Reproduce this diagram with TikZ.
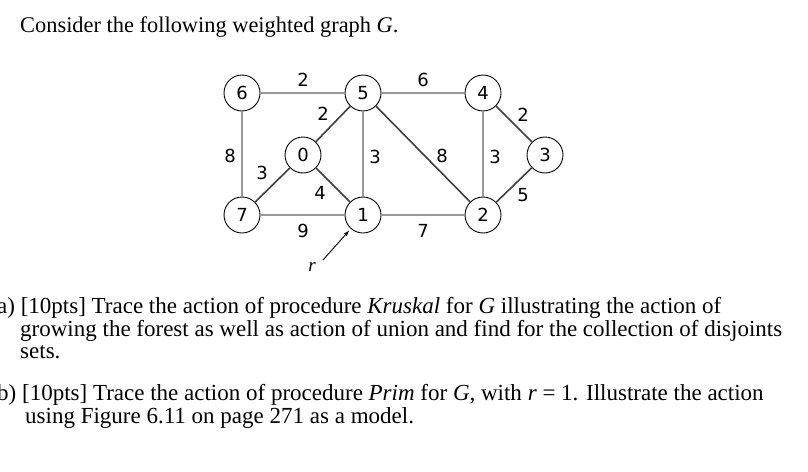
\documentclass[tikz,border=0pt]{standalone}
\usepackage{fontspec}
\setmainfont{Liberation Serif}
\newfontfamily\digitfont{DejaVu Sans}
\usetikzlibrary{arrows.meta}
\tikzset{
    vertex/.style={circle, draw=black, line width=0.9pt, fill=white,
        minimum size=36pt, inner sep=0pt, font=\digitfont\fontsize{18}{18}\selectfont},
    wedge/.style={draw=gray!80, line width=2pt},
    dedge/.style={draw=black!75, line width=1.6pt},
    weight/.style={font=\digitfont\fontsize{18}{18}\selectfont, inner sep=0pt},
    line/.style={anchor=base west, inner sep=0pt}
}
\begin{document}
\begin{tikzpicture}[x=1pt, y=-1pt]
    \useasboundingbox[fill=white] (0,0) rectangle (808,471);

    % question text
    \node[line, font=\fontsize{22.4}{26}\selectfont] (title) at (20,32)
        {Consider the following weighted graph \textit{G}.};

    % vertices
    \node[vertex] (n6) at (242,93) {6};
    \node[vertex] (n5) at (363,93) {5};
    \node[vertex] (n4) at (483,93) {4};
    \node[vertex] (n0) at (303,155) {0};
    \node[vertex] (n3) at (545,155) {3};
    \node[vertex] (n7) at (242,215) {7};
    \node[vertex] (n1) at (363,215) {1};
    \node[vertex] (n2) at (483,215) {2};

    % edges
    \draw[wedge] (n6) -- (n5);
    \draw[wedge] (n5) -- (n4);
    \draw[wedge] (n6) -- (n7);
    \draw[wedge] (n7) -- (n1);
    \draw[wedge] (n1) -- (n2);
    \draw[wedge] (n5) -- (n1);
    \draw[wedge] (n4) -- (n2);
    \draw[dedge] (n5) -- (n0);
    \draw[dedge] (n0) -- (n7);
    \draw[dedge] (n0) -- (n1);
    \draw[dedge] (n5) -- (n2);
    \draw[dedge] (n4) -- (n3);
    \draw[dedge] (n3) -- (n2);

    % weights
    \node[weight] (w65) at (303,80) {2};
    \node[weight] (w50) at (323,114) {2};
    \node[weight] (w67) at (230,156) {8};
    \node[weight] (w07) at (262,173) {3};
    \node[weight] (w51) at (375,157) {3};
    \node[weight] (w01) at (320,193) {4};
    \node[weight] (w71) at (303,231) {9};
    \node[weight] (w54) at (423,80) {6};
    \node[weight] (w43) at (523,115) {2};
    \node[weight] (w52) at (442,156) {8};
    \node[weight] (w42) at (495,157) {3};
    \node[weight] (w32) at (523,195) {5};
    \node[weight] (w12) at (423,231) {7};

    % root pointer
    \node[font=\fontsize{19}{19}\selectfont\itshape, inner sep=0pt] (r) at (312,267) {r};
    \coordinate (rtail) at (323,260);
    \draw[-{Latex[length=6pt,width=4pt]}, line width=0.9pt, shorten >=2pt] (rtail) -- (n1);

    % parts
    \begin{scope}[font=\fontsize{23}{23}\selectfont]
    \node[line] (a1) at (-3,313) {a) [10pts] Trace the action of procedure \textit{Kruskal} for \textit{G} illustrating the action of};
    \node[line] (a2) at (20,336) {growing the forest as well as action of union and find for the collection of disjoints};
    \node[line] (a3) at (20,358) {sets.};
    \node[line] (b1) at (-3,400) {b) [10pts] Trace the action of procedure \textit{Prim} for \textit{G}, with \textit{r} = 1. Illustrate the action};
    \node[line] (b2) at (25,423) {using Figure 6.11 on page 271 as a model.};
    \end{scope}
\end{tikzpicture}
\end{document}
